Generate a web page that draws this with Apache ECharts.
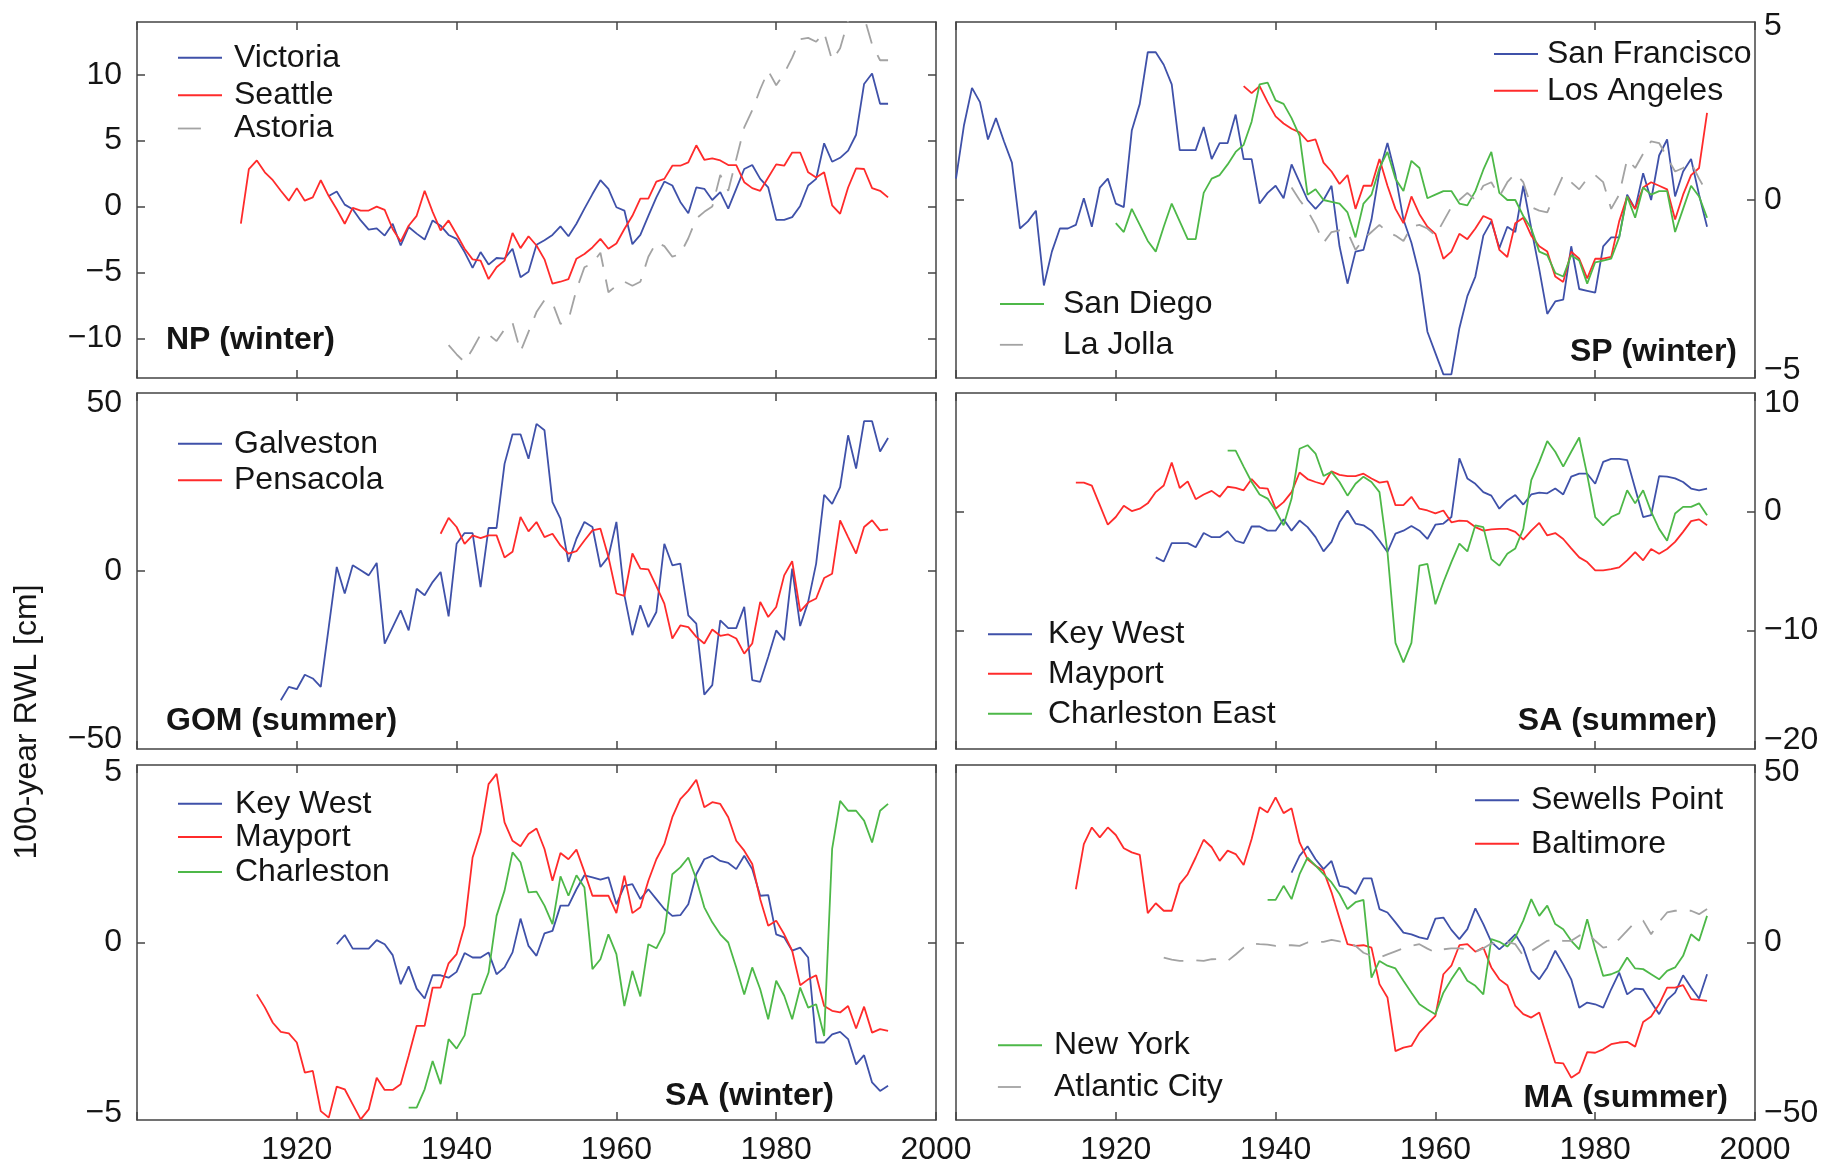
<!DOCTYPE html>
<html><head><meta charset="utf-8">
<script src="https://cdn.jsdelivr.net/npm/echarts@6/dist/echarts.min.js"></script>
<style>html,body{margin:0;padding:0;background:#fff}#c{width:1827px;height:1166px}</style>
</head><body><div id="c"></div>
<script>
// ---------------- DATA (annual values, cm) ----------------
// NP (winter)
const victoriaStart = 1924;
const victoria = [0.8,1.15,0.15,-0.2,-1.05,-1.75,-1.65,-2.2,-1.3,-2.95,
 -1.55,-2.05,-2.5,-1.05,-1.45,-2.15,-2.45,-3.45,-4.65,-3.45,
 -4.4,-3.9,-3.95,-3.2,-5.35,-4.95,-2.9,-2.55,-2.15,-1.5,
 -2.25,-1.3,-0.15,0.95,2.0,1.35,-0.05,-0.3,-2.85,-2.15,
 -0.7,0.7,1.9,1.6,0.35,-0.5,1.45,1.35,0.5,1.1,
 -0.15,1.35,2.85,3.15,2.1,1.45,-1.0,-1.0,-0.8,0.05,
 1.6,2.1,4.8,3.4,3.7,4.25,5.45,9.3,10.1,7.8,7.8];
const seattleStart = 1913;
const seattle = [-1.3,2.85,3.5,2.6,2.0,1.2,0.45,1.4,0.45,0.7,
 2.0,0.8,-0.2,-1.3,-0.1,-0.3,-0.3,0.0,-0.25,-1.7,
 -2.65,-1.45,-0.7,1.2,-0.4,-1.8,-1.05,-2.1,-3.2,-4.0,
 -4.1,-5.5,-4.6,-4.1,-2.0,-3.15,-2.25,-2.95,-4.0,-5.85,
 -5.7,-5.5,-3.95,-3.6,-3.1,-2.45,-3.2,-2.8,-1.7,-0.7,
 0.6,0.6,1.9,2.1,3.1,3.1,3.35,4.65,3.55,3.65,
 3.5,3.15,3.15,1.85,1.4,1.2,2.2,3.2,3.1,4.1,
 4.1,2.6,2.2,2.6,0.1,-0.55,1.45,2.9,2.85,1.4,
 1.2,0.7];
const astoriaStart = 1939;
const astoria = [-10.5,-11.2,-11.8,-10.8,-9.7,-9.7,-10.2,-9.3,-8.8,-11.0,
 -9.5,-8.0,-7.1,-7.3,-8.9,-8.6,-6.3,-4.6,-4.3,-3.5,
 -6.5,-6.0,-5.7,-6.0,-5.7,-3.8,-2.7,-3.0,-3.8,-3.6,
 -2.4,-0.9,-0.4,0.0,2.4,1.2,3.6,6.0,7.3,8.9,
 10.3,9.2,10.1,11.3,12.7,12.8,12.5,13.2,11.1,12.0,
 14.1,14.9,14.4,12.3,11.1,11.1];

// SP (winter)
const sanFranciscoStart = 1900;
const sanFrancisco = [0.6,2.1,3.15,2.75,1.7,2.3,1.65,1.05,-0.8,-0.6,
 -0.3,-2.4,-1.45,-0.8,-0.8,-0.7,0.05,-0.75,0.35,0.6,
 -0.1,-0.2,1.95,2.7,4.15,4.15,3.8,3.25,1.4,1.4,
 1.4,2.05,1.15,1.6,1.6,2.4,1.15,1.15,-0.1,0.2,
 0.4,0.05,1.0,0.5,0.0,-0.25,0.0,0.4,-1.3,-2.35,
 -1.45,-1.4,-0.55,0.8,1.6,0.7,-0.55,-1.2,-2.1,-3.7,
 -4.3,-4.9,-4.9,-3.6,-2.7,-2.15,-1.0,-0.6,-1.35,-0.75,
 -0.9,0.4,-0.8,-1.95,-3.2,-2.85,-2.8,-1.3,-2.5,-2.55,
 -2.6,-1.3,-1.05,-1.05,0.15,-0.25,0.75,0.0,1.25,1.7,
 0.1,0.8,1.15,0.15,-0.75];
const losAngelesStart = 1936;
const losAngeles = [3.2,3.0,3.2,2.75,2.35,2.15,2.0,1.9,1.65,1.7,
 1.05,0.8,0.45,0.7,-0.25,0.4,0.4,1.15,0.4,-0.25,
 -0.65,0.1,-0.4,-0.75,-0.95,-1.65,-1.45,-0.95,-1.1,-0.8,
 -0.45,-0.55,-1.4,-1.6,-0.65,-0.5,-1.0,-1.3,-1.45,-2.15,
 -2.3,-1.45,-1.65,-2.2,-1.65,-1.65,-1.6,-0.6,0.1,-0.25,
 0.35,0.5,0.4,0.3,-0.55,0.15,0.7,0.9,2.45];
const sanDiegoStart = 1920;
const sanDiego = [-0.65,-0.9,-0.25,-0.7,-1.15,-1.45,-0.75,-0.1,-0.6,-1.1,
 -1.1,0.2,0.6,0.7,1.0,1.35,1.55,2.2,3.25,3.3,
 2.8,2.7,2.3,1.8,0.15,0.3,0.0,-0.05,-0.1,-0.35,
 -1.05,-0.1,0.15,0.9,1.35,0.6,0.25,1.1,0.9,0.05,
 0.15,0.25,0.25,-0.1,-0.15,0.25,0.85,1.35,0.2,0.0,
 0.0,-0.45,-0.8,-1.45,-1.55,-2.05,-2.15,-1.55,-1.7,-2.35,
 -1.75,-1.7,-1.65,-1.05,0.1,-0.5,0.35,0.15,0.25,0.25,
 -0.9,-0.25,0.4,0.1,-0.5];
const laJollaStart = 1942;
const laJolla = [0.35,0.0,-0.3,-0.7,-1.2,-0.9,-0.85,-0.9,-1.4,-1.1,
 -0.9,-0.7,-0.9,-1.0,-1.15,-0.75,-0.7,-0.8,-1.0,-0.6,
 -0.2,0.0,0.2,0.0,0.4,0.5,0.1,0.5,0.75,0.5,
 -0.2,-0.3,-0.35,0.2,0.7,0.5,0.3,0.6,0.7,0.5,
 -0.25,0.15,1.15,0.9,1.3,1.65,1.6,1.2,0.8,0.9,
 1.05,0.6,0.2];

// GOM (summer)
const galvestonStart = 1918;
const galveston = [-38.5,-34.5,-35.2,-30.9,-32,-34.5,-16.7,1.2,-6.7,1.7,
 0.2,-1.3,2.4,-21.6,-16.7,-11.7,-17.7,-5.3,-7.2,-3.3,
 -0.3,-13.5,8.1,11.3,11.3,-4.8,12.8,12.8,31.9,40.7,
 40.7,33.4,43.8,41.9,20.5,15.6,2.7,9.6,14.6,13.1,
 1.2,4.2,14.6,-7.2,-19.1,-10.2,-16.7,-12.2,8.1,1.7,
 2.2,-13.2,-15.7,-36.8,-34,-14.7,-17,-17,-10.7,-32.5,
 -33,-25.6,-17.7,-20.6,0.7,-16.4,-9.2,2.2,22.7,20,
 25,40.4,30.5,44.6,44.6,35.6,39.6];
const pensacolaStart = 1938;
const pensacola = [11.1,15.8,13.1,8.1,10.6,9.8,10.6,10.6,4.0,5.7,
 16.1,11.8,14.6,10.1,11.1,7.6,5.2,5.9,9.1,12.1,
 12.6,4.2,-6.7,-7.4,5.2,0.7,0.5,-4.5,-9.7,-20.1,
 -16.2,-16.7,-19.6,-21.6,-17.4,-19.3,-18.9,-20.1,-24.6,-21.6,
 -9.2,-13.7,-10.7,-1.3,2.9,-12,-9.4,-8.2,-2.1,-0.8,
 15.1,10.1,5.2,13.1,15.1,12.1,12.4];

// SA (summer)
const keyWestSumStart = 1925;
const keyWestSum = [-3.85,-4.2,-2.65,-2.65,-2.65,-3.0,-1.8,-2.15,-2.15,-1.65,
 -2.45,-2.65,-1.25,-1.25,-1.6,-1.6,-0.65,-1.6,-0.75,-1.3,
 -2.15,-3.35,-2.55,-0.9,0.1,-1.0,-1.15,-1.6,-2.45,-3.4,
 -1.85,-1.6,-1.2,-1.6,-2.3,-1.1,-1.0,-0.45,4.5,2.8,
 2.35,1.65,1.35,0.25,0.95,1.4,0.6,1.45,1.6,1.55,
 1.95,1.45,2.95,3.2,3.2,2.35,4.2,4.45,4.45,4.35,
 1.95,-0.45,-0.3,3.0,2.95,2.8,2.5,1.95,1.8,1.95];
const mayportSumStart = 1915;
const mayportSum = [2.45,2.45,2.2,0.55,-1.1,-0.45,0.5,0.05,0.25,0.7,
 1.65,2.2,4.15,2.0,2.55,1.05,1.45,1.75,1.25,2.1,
 2.0,1.8,2.75,2.0,1.95,0.25,0.8,1.65,3.3,2.75,
 2.5,2.3,3.4,3.1,3.0,3.0,3.2,2.8,2.45,2.55,
 0.55,0.55,1.25,0.25,0.1,-0.15,0.1,-0.9,-0.75,-0.8,
 -1.3,-1.6,-1.5,-1.45,-1.45,-1.7,-2.35,-1.6,-0.95,-2.0,
 -1.8,-2.3,-3.1,-3.85,-4.25,-4.95,-4.95,-4.85,-4.7,-4.1,
 -3.4,-4.1,-3.15,-3.55,-3.15,-2.55,-1.7,-0.8,-0.65,-1.15];
const charlestonEastStart = 1934;
const charlestonEast = [5.15,5.15,3.8,2.5,1.45,1.1,0.1,-1.15,1.1,5.3,
 5.6,4.9,3.0,3.35,2.5,1.35,2.35,2.95,2.5,1.65,
 -3.4,-11.05,-12.7,-11.05,-4.55,-4.4,-7.8,-5.95,-4.25,-2.7,
 -3.35,-1.15,-1.3,-4.0,-4.55,-3.55,-3.1,-1.45,2.65,4.2,
 5.95,5.05,3.8,5.05,6.25,3.1,-0.45,-1.15,-0.45,-0.15,
 1.8,0.7,1.8,0.0,-1.45,-2.45,-0.15,0.4,0.4,0.7,-0.3];

// SA (winter)
const keyWestWinStart = 1925;
const keyWestWin = [-0.05,0.22,-0.18,-0.18,-0.18,0.07,-0.05,-0.37,-1.22,-0.7,
 -1.35,-1.64,-0.96,-0.96,-1.03,-0.86,-0.31,-0.44,-0.44,-0.29,
 -0.93,-0.73,-0.29,0.7,-0.1,-0.39,0.27,0.34,1.08,1.08,
 1.56,1.97,1.91,1.84,1.91,1.12,1.66,1.71,1.27,1.56,
 1.27,0.98,0.78,0.8,1.12,2.0,2.44,2.54,2.39,2.33,
 2.15,2.54,2.15,1.37,1.39,0.24,0.15,-0.24,-0.15,-0.44,
 -2.93,-2.93,-2.69,-2.62,-2.83,-3.57,-3.3,-4.1,-4.35,-4.2];
const mayportWinStart = 1915;
const mayportWin = [-1.52,-1.9,-2.35,-2.62,-2.66,-2.93,-3.81,-3.76,-4.94,-5.13,
 -4.22,-4.3,-4.74,-5.18,-4.89,-3.96,-4.32,-4.32,-4.15,-3.32,
 -2.44,-2.44,-1.32,-1.32,-0.61,-0.34,0.49,2.49,3.23,4.64,
 4.94,3.52,2.98,2.82,3.18,3.34,2.74,1.81,2.62,2.44,
 2.72,2.07,1.37,1.37,1.37,0.86,1.96,0.86,1.03,1.81,
 2.44,2.88,3.67,4.2,4.45,4.77,3.96,4.11,4.06,3.67,
 2.98,2.69,2.3,1.27,0.49,0.64,0.24,-0.24,-1.25,-1.08,
 -0.96,-1.86,-2.0,-2.05,-1.86,-2.52,-1.88,-2.64,-2.54,-2.59];
const charlestonWinStart = 1934;
const charlestonWin = [-4.84,-4.84,-4.3,-3.47,-4.15,-2.83,-3.11,-2.72,-1.52,-1.5,
 -0.88,0.78,1.52,2.64,2.35,1.47,1.49,1.08,0.54,1.94,
 1.37,1.97,1.61,-0.78,-0.49,0.24,-0.34,-1.86,-0.83,-1.58,
 -0.05,-0.17,0.29,2.0,2.2,2.49,1.86,1.03,0.59,0.24,
 0.0,-0.73,-1.52,-0.73,-1.37,-2.25,-1.12,-1.56,-2.25,-1.32,
 -1.91,-1.81,-2.74,2.74,4.15,3.86,3.86,3.57,2.93,3.86,4.06];

// MA (summer)
const sewellsStart = 1942;
const sewells = [20.5,25.4,28.2,24.4,21.5,23.9,16.6,16.1,14.2,18.8,
 18.8,9.8,8.8,5.9,2.9,2.4,1.5,1.0,7.0,7.3,
 3.7,1.0,3.9,10.0,5.4,0.2,-2.0,0.0,2.4,-1.5,
 -8.3,-10.8,-7.3,-2.4,-6.4,-10.8,-19.1,-17.6,-18.1,-19.1,
 -13.7,-8.8,-15.2,-13.5,-13.7,-17.4,-21.0,-16.8,-14.7,-9.6,
 -13.2,-16.4,-9.3];
const baltimoreStart = 1915;
const baltimore = [15.6,28.8,33.7,30.8,33.7,31.5,27.6,26.4,25.7,8.6,
 11.5,9.3,9.3,17.1,20.0,24.9,30.1,27.9,23.9,26.9,
 25.9,22.7,30.3,39.6,38.1,42.5,37.9,39.3,29.3,24.4,
 22.5,21.0,14.7,7.0,-0.5,-1.0,-0.8,-1.5,-12.2,-16.1,
 -31.8,-30.8,-30.3,-26.4,-23.9,-21.5,-9.3,-6.8,-0.8,-0.5,
 -2.7,-1.5,-7.3,-10.8,-12.5,-18.6,-21.0,-22.0,-20.5,-27.9,
 -35.2,-35.4,-39.6,-38.1,-32.1,-32.3,-31.3,-29.8,-29.3,-29.1,
 -30.5,-23.3,-21.7,-18.1,-13.2,-13.2,-12.5,-16.6,-16.8,-17.1];
const newYorkStart = 1939;
const newYork = [12.5,12.5,16.6,12.7,20.0,24.9,22.5,20.0,17.6,14.2,
 9.8,11.8,12.5,-10.3,-5.4,-6.8,-7.6,-11.2,-14.7,-18.1,
 -19.6,-21.0,-14.7,-10.8,-7.3,-11.2,-12.7,-15.2,1.0,0.2,
 -1.2,1.5,6.4,12.7,7.8,10.8,5.4,3.9,0.5,-2.0,
 6.8,-2.0,-9.8,-9.3,-8.3,-4.4,-7.6,-7.8,-9.3,-10.8,
 -8.3,-7.3,-3.9,2.4,0.5,7.8];
const atlanticCityStart = 1926;
const atlanticCity = [-4.4,-5.0,-5.4,-5.4,-5.2,-5.4,-4.9,-4.8,-5.4,-3.5,
 -1.5,-0.3,-0.5,-0.6,-1.0,-0.8,-0.8,-1.0,0.0,0.1,
 0.2,0.8,0.3,0.0,-1.0,-3.0,-3.9,-4.4,-3.5,-2.6,
 -1.7,-1.0,-0.5,-1.8,-2.9,-2.0,-1.7,-1.7,-2.0,-2.7,
 -1.7,-0.3,0.0,0.2,-0.5,-3.9,-2.5,-1.0,0.5,1.0,
 0.5,0.5,2.0,2.9,0.5,-1.5,-1.0,1.0,3.5,6.0,
 6.4,2.4,6.0,8.8,9.3,9.3,9.3,8.3,9.8];

// Axis tick labels
const xTickLabels = [1920, 1940, 1960, 1980, 2000];
const npTicks = [-10, -5, 0, 5, 10];
const spTicks = [-5, 0, 5];
const gomTicks = [-50, 0, 50];
const saSumTicks = [-20, -10, 0, 10];
const saWinTicks = [-5, 0, 5];
const maTicks = [-50, 0, 50];

// ---------------- STYLE / LAYOUT ----------------
const FONT = '"Liberation Sans", Arial, Helvetica, sans-serif';
const BLUE = '#3f51a9', RED = '#ff2b2b', GREEN = '#4db848', GRAY = '#a3a3a3';
const TXT = '#151515', AX = '#444';
const DASH = [20, 13];
const LEGDASH = [23, 200];

function ser(name, start, vals, color, dashed) {
  return { name, start, vals, color, dashed: !!dashed };
}

// legend entries: [name, vertical centre of text]
const panels = [
  { title: 'NP (winter)', tl: { left: 166, top: 324 }, left: 137, top: 22, side: 'left',
    min: -13, max: 14, labels: npTicks, ticks: npTicks, xl: false, shift: {},
    series: [ser('Victoria', victoriaStart, victoria, BLUE), ser('Seattle', seattleStart, seattle, RED),
             ser('Astoria', astoriaStart, astoria, GRAY, true)],
    legends: [{ left: 177, pad: 7, items: [['Victoria', 56.3], ['Seattle', 93.7], ['Astoria', 127]] }] },
  { title: 'SP (winter)', tl: { right: 90, top: 336 }, left: 956, top: 22, side: 'right',
    min: -5, max: 5, labels: spTicks, ticks: [0], xl: false, shift: { '5': 4, '-5': -8 },
    series: [ser('San Francisco', sanFranciscoStart, sanFrancisco, BLUE), ser('Los Angeles', losAngelesStart, losAngeles, RED),
             ser('San Diego', sanDiegoStart, sanDiego, GREEN), ser('La Jolla', laJollaStart, laJolla, GRAY, true)],
    legends: [{ left: 1493, pad: 4, items: [['San Francisco', 52.5], ['Los Angeles', 89.2]] },
              { left: 999, pad: 14, items: [['San Diego', 302.5], ['La Jolla', 343.3]] }] },
  { title: 'GOM (summer)', tl: { left: 166, top: 705 }, left: 137, top: 393, side: 'left',
    min: -53, max: 53, labels: gomTicks, ticks: [0], xl: false, shift: {},
    series: [ser('Galveston', galvestonStart, galveston, BLUE), ser('Pensacola', pensacolaStart, pensacola, RED)],
    legends: [{ left: 177, pad: 7, items: [['Galveston', 442.2], ['Pensacola', 478.8]] }] },
  { title: 'SA (summer)', tl: { right: 110, top: 705.5 }, left: 956, top: 393, side: 'right',
    min: -20, max: 10, labels: saSumTicks, ticks: [-10, 0], xl: false, shift: { '10': 10, '-20': -9 },
    series: [ser('Key West', keyWestSumStart, keyWestSum, BLUE), ser('Mayport', mayportSumStart, mayportSum, RED),
             ser('Charleston East', charlestonEastStart, charlestonEast, GREEN)],
    legends: [{ left: 987, pad: 11, items: [['Key West', 632.7], ['Mayport', 672.2], ['Charleston East', 712.2]] }] },
  { title: 'SA (winter)', tl: { left: 665, top: 1080 }, left: 137, top: 765, side: 'left',
    min: -5.2, max: 5.2, labels: saWinTicks, ticks: [0], xl: true, shift: {},
    series: [ser('Key West', keyWestWinStart, keyWestWin, BLUE), ser('Mayport', mayportWinStart, mayportWin, RED),
             ser('Charleston', charlestonWinStart, charlestonWin, GREEN)],
    legends: [{ left: 177, pad: 8, items: [['Key West', 802.2], ['Mayport', 835.5], ['Charleston', 870.5]] }] },
  { title: 'MA (summer)', tl: { right: 99, top: 1082 }, left: 956, top: 765, side: 'right',
    min: -52, max: 52, labels: maTicks, ticks: [0], xl: true, shift: {},
    series: [ser('Sewells Point', sewellsStart, sewells, BLUE), ser('Baltimore', baltimoreStart, baltimore, RED),
             ser('New York', newYorkStart, newYork, GREEN), ser('Atlantic City', atlanticCityStart, atlanticCity, GRAY, true)],
    legends: [{ left: 1474, pad: 7, items: [['Sewells Point', 798.8], ['Baltimore', 842.2]] },
              { left: 997, pad: 7, items: [['New York', 1043.8], ['Atlantic City', 1085.5]] }] }
];

const PW = 799, PH = 356;
const minus = v => String(v).replace('-', '\u2212');
const axLine = { show: true, onZero: false, lineStyle: { color: AX, width: 1.5 } };
const tick = extra => Object.assign({ show: true, inside: true, length: 8, lineStyle: { color: AX, width: 1.5 } }, extra || {});
const lblStyle = { fontSize: 32, fontFamily: FONT, color: TXT };

const grid = [], xAxis = [], yAxis = [], series = [], legend = [], title = [];

panels.forEach((p, i) => {
  grid.push({ left: p.left, top: p.top, width: PW, height: PH, containLabel: false });
  xAxis.push({ gridIndex: i, type: 'value', min: 1900, max: 2000, interval: 20, position: 'bottom',
    axisLine: axLine, axisTick: tick(), splitLine: { show: false },
    axisLabel: Object.assign({ show: p.xl, margin: 14, showMinLabel: true, showMaxLabel: true,
      customValues: xTickLabels, formatter: v => String(v) }, lblStyle) });
  xAxis.push({ gridIndex: i, type: 'value', min: 1900, max: 2000, interval: 20, position: 'top',
    axisLine: axLine, axisTick: tick(), splitLine: { show: false }, axisLabel: { show: false } });
  // rich styles to nudge edge labels vertically, as in the original figure
  const rich = {};
  Object.keys(p.shift).forEach((k, j) => {
    const s = p.shift[k];
    rich['s' + j] = Object.assign({ lineHeight: 32, padding: s > 0 ? [2 * s, 0, 0, 0] : [0, 0, -2 * s, 0] }, lblStyle);
  });
  const keys = Object.keys(p.shift);
  const yfmt = v => {
    const j = keys.indexOf(String(v));
    return j >= 0 ? '{s' + j + '|' + minus(v) + '}' : minus(v);
  };
  ['left', 'right'].forEach(pos => {
    yAxis.push({ gridIndex: i, type: 'value', min: p.min, max: p.max, position: pos,
      axisLine: axLine, axisTick: tick({ customValues: p.ticks }), splitLine: { show: false },
      axisLabel: Object.assign({ show: p.side === pos, customValues: p.labels, formatter: yfmt, rich,
        margin: pos === 'left' ? 15 : 9, showMinLabel: true, showMaxLabel: true }, lblStyle) });
  });
  p.series.forEach(s => {
    series.push({
      type: 'line', name: s.name, xAxisIndex: 2 * i, yAxisIndex: 2 * i,
      data: s.vals.map((v, k) => [s.start + k, v]),
      symbol: 'none', showSymbol: false, clip: true, animation: false, silent: true,
      lineStyle: { color: s.color, width: 1.8, type: s.dashed ? DASH : 'solid' },
      itemStyle: { color: s.color }
    });
  });
  p.legends.forEach(L => {
    L.items.forEach(([n, cy]) => {
      const s = p.series.find(q => q.name === n);
      legend.push({
        orient: 'vertical', left: L.left, top: cy - 14.5, padding: 0,
        itemWidth: 44, itemHeight: 2, selectedMode: false,
        itemStyle: { color: 'rgba(0,0,0,0)', borderWidth: 0 },
        textStyle: { fontSize: 32, fontFamily: FONT, color: TXT, lineHeight: 32, padding: [0, 0, 0, L.pad] },
        data: [s.dashed ? { name: n, lineStyle: { type: LEGDASH, color: s.color, width: 1.8 } } : { name: n }]
      });
    });
  });
  title.push(Object.assign({ text: p.title, padding: 0,
    textStyle: { fontSize: 32, fontWeight: 'bold', fontFamily: FONT, color: TXT, lineHeight: 32 } }, p.tl));
});

const chart = echarts.init(document.getElementById('c'), null, { renderer: 'canvas' });
chart.setOption({
  backgroundColor: '#fff',
  animation: false,
  title, grid, xAxis, yAxis, legend, series,
  graphic: [{
    type: 'text', x: 27, y: 722, rotation: Math.PI / 2,
    style: { text: '100-year RWL [cm]', fontSize: 32, fontFamily: FONT, fill: TXT, align: 'center', verticalAlign: 'middle' }
  }]
});
</script>
</body></html>
